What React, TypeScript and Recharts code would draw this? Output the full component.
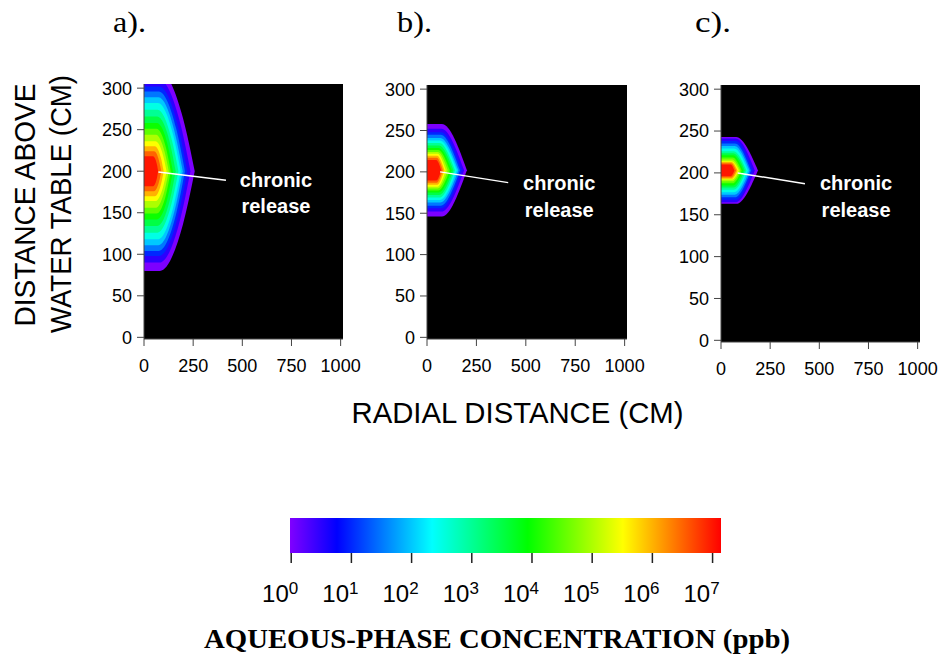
import React from "react";
import {
  ComposedChart,
  Area,
  XAxis,
  YAxis,
  CartesianGrid,
  ReferenceLine,
  ReferenceDot,
} from "recharts";

const SANS = '"Liberation Sans", Arial, Helvetica, sans-serif';
const SERIF = '"Liberation Serif", "Times New Roman", Times, serif';

// log10 of aqueous concentration (ppb) for each contour level
const LEVELS = [0, 0.5, 1, 1.5, 2, 2.5, 3, 3.5, 4, 4.5, 5, 5.5, 6, 6.5, 7];

// contour shapes, cm: half-height at r=0, end of flat part, radial reach at source height
const A_HALF = [120, 110, 102, 96, 89, 82, 74, 66, 58, 51, 44, 36, 30, 24, 18];
const A_FLAT = [81, 79, 77, 75, 73, 71, 69, 67, 65, 63, 61, 58, 55, 51, 46];
const A_REACH = [258, 236, 220, 208, 197, 187, 175, 161, 147, 136, 126, 115, 100, 88, 72];
// panel a contours bulge: one extra point on the shoulder (r, half-height)
const A_MID_R = [198, 184, 173, 164, 156, 149, 140, 131, 121, 113, 105, 97, 86, 76, 64];
const A_MID_H = [64, 58, 54, 51, 47, 43, 39, 35, 31, 27, 23, 19, 16, 13, 10];

const B_HALF = [56, 50, 46, 43, 39, 36, 33, 30, 27, 24.5, 22, 20, 17.5, 15, 12.5];
const B_FLAT = [75, 73, 71, 69, 67, 65, 63, 61, 59, 57, 55, 53, 51, 49, 47];
const B_REACH = [202, 188, 176, 167, 159, 151, 142, 134, 125, 115, 105, 95, 88, 80, 72];

const C_HALF = [40, 38, 35, 32, 29, 26, 23, 20.5, 18, 15.5, 13, 11, 10, 8.5, 7];
const C_FLAT = [77, 75, 73, 71, 69, 67, 65, 63, 61, 59, 57, 55, 53, 51, 49];
const C_REACH = [188, 172, 160, 152, 145, 137, 129, 121, 113, 105, 98, 91, 84, 77, 68];

// height of the release point (cm)
const SOURCE_Y = [200, 202, 203];

const X_TICKS = [0, 250, 500, 750, 1000];
const Y_TICKS = [0, 50, 100, 150, 200, 250, 300];

// colour bar: log10 concentration where each pure hue sits
const BAR_LEVELS = [-0.02, 0.76, 2.34, 3.93, 5.51, 7.14];
const BAR_COLORS = ["#8000ff", "#0000ff", "#00ffff", "#00ff00", "#ffff00", "#ff0000"];
const BAR_TICKS = [0, 1, 2, 3, 4, 5, 6, 7];

const hexToRgb = (h: string) => [1, 3, 5].map((i) => parseInt(h.slice(i, i + 2), 16));

function colorAt(v: number) {
  const n = BAR_LEVELS.length;
  for (let i = 0; i < n - 1; i++) {
    if (v <= BAR_LEVELS[i + 1] || i === n - 2) {
      const t = Math.max(0, Math.min(1, (v - BAR_LEVELS[i]) / (BAR_LEVELS[i + 1] - BAR_LEVELS[i])));
      const a = hexToRgb(BAR_COLORS[i]);
      const b = hexToRgb(BAR_COLORS[i + 1]);
      return `rgb(${a.map((c, k) => Math.round(c + (b[k] - c) * t)).join(",")})`;
    }
  }
  return BAR_COLORS[n - 1];
}

type PanelCfg = {
  box: { left: number; top: number; width: number; height: number };
  half: number[];
  flat: number[];
  reach: number[];
  midR?: number[];
  midH?: number[];
  center: number;
  leader: { x: number; y: number }[];
  text: { x: number; chronic: number; release: number };
};

const PANELS: PanelCfg[] = [
  {
    box: { left: 144, top: 84, width: 199, height: 255 },
    half: A_HALF, flat: A_FLAT, reach: A_REACH, midR: A_MID_R, midH: A_MID_H, center: SOURCE_Y[0],
    leader: [{ x: 73, y: 199 }, { x: 417, y: 189 }],
    text: { x: 671, chronic: 190, release: 158 },
  },
  {
    box: { left: 427, top: 85, width: 200, height: 254 },
    half: B_HALF, flat: B_FLAT, reach: B_REACH, center: SOURCE_Y[1],
    leader: [{ x: 66, y: 200 }, { x: 411, y: 187 }],
    text: { x: 669, chronic: 187, release: 154 },
  },
  {
    box: { left: 721, top: 84.5, width: 199, height: 257 },
    half: C_HALF, flat: C_FLAT, reach: C_REACH, center: SOURCE_Y[2],
    leader: [{ x: 85, y: 200 }, { x: 427, y: 187 }],
    text: { x: 687, chronic: 187.5, release: 155.5 },
  },
];

function contour(p: PanelCfg, i: number) {
  const c = p.center;
  const pts = [
    { x: 0, band: [c - p.half[i], c + p.half[i]] },
    { x: p.flat[i], band: [c - p.half[i], c + p.half[i]] },
  ];
  if (p.midR && p.midH) pts.push({ x: p.midR[i], band: [c - p.midH[i], c + p.midH[i]] });
  pts.push({ x: p.reach[i], band: [c, c] });
  return pts;
}

const tickStyle = { fontSize: 18, fill: "#000", fontFamily: SANS };
const labelStyle = { position: "center" as const, fill: "#fff", fontSize: 20, fontWeight: 700, fontFamily: SANS };

function Panel({ p }: { p: PanelCfg }) {
  const { box } = p;
  const YW = 50;
  const MR = 25;
  return (
    <div style={{ position: "absolute", left: box.left - YW, top: box.top - 10 }}>
      <ComposedChart
        width={box.width + YW + MR}
        height={box.height + 10 + 45}
        margin={{ top: 10, right: MR, left: 0, bottom: 0 }}
      >
        <CartesianGrid fill="#000" horizontal={false} vertical={false} stroke="none" />
        <XAxis
          type="number"
          dataKey="x"
          domain={[0, 1012]}
          ticks={X_TICKS}
          allowDataOverflow
          interval={0}
          height={45}
          tickSize={7}
          tickMargin={13}
          tick={tickStyle}
          tickLine={{ stroke: "#444" }}
          axisLine={{ stroke: "#444" }}
        />
        <YAxis
          type="number"
          domain={[-2, 305]}
          ticks={Y_TICKS}
          allowDataOverflow
          interval={0}
          width={YW}
          tickSize={7}
          tickMargin={5}
          tick={tickStyle}
          tickLine={{ stroke: "#444" }}
          axisLine={{ stroke: "#444" }}
        />
        {LEVELS.map((lv, i) => (
          <Area
            key={lv}
            data={contour(p, i)}
            dataKey="band"
            type="monotone"
            stroke="none"
            fill={colorAt(lv)}
            fillOpacity={1}
            dot={false}
            activeDot={false}
            isAnimationActive={false}
          />
        ))}
        <ReferenceLine segment={p.leader} stroke="#fff" strokeWidth={1.5} />
        <ReferenceDot x={p.text.x} y={p.text.chronic} r={0} fill="none" stroke="none"
          label={{ value: "chronic", ...labelStyle }} />
        <ReferenceDot x={p.text.x} y={p.text.release} r={0} fill="none" stroke="none"
          label={{ value: "release", ...labelStyle }} />
      </ComposedChart>
    </div>
  );
}

const PowerTick = (props: any) => {
  const { x, y, payload } = props;
  return (
    <text x={x - 11} y={y + 39} textAnchor="middle" fontSize={24} fontFamily={SANS} fill="#000">
      10
      <tspan dy={-8} fontSize={17}>{payload.value}</tspan>
    </text>
  );
};

const BAR_DATA = BAR_LEVELS.map((l) => ({ x: l, v: 1 }));

function ColorBar() {
  const lo = BAR_LEVELS[0];
  const hi = BAR_LEVELS[BAR_LEVELS.length - 1];
  const ML = 40;
  const MR = 30;
  // bar is 35px tall, tick marks hang 10px below it inside the plot
  const tickDrop = -10 / 35;
  return (
    <div style={{ position: "absolute", left: 290 - ML, top: 517.7 }}>
      <ComposedChart
        width={431 + ML + MR}
        height={45 + 60}
        data={BAR_DATA}
        margin={{ top: 0, right: MR, left: ML, bottom: 0 }}
      >
        <defs>
          <linearGradient id="rainbow" x1="0" y1="0" x2="1" y2="0">
            {BAR_LEVELS.map((l, i) => (
              <stop key={l} offset={(l - lo) / (hi - lo)} stopColor={BAR_COLORS[i]} />
            ))}
          </linearGradient>
        </defs>
        <XAxis
          type="number"
          dataKey="x"
          domain={[lo, hi]}
          ticks={BAR_TICKS}
          interval={0}
          height={60}
          tickSize={0}
          tickMargin={0}
          axisLine={false}
          tickLine={false}
          tick={<PowerTick />}
        />
        <YAxis hide type="number" domain={[tickDrop, 1]} />
        <Area
          dataKey="v"
          type="linear"
          baseValue={0}
          stroke="none"
          fill="url(#rainbow)"
          fillOpacity={1}
          dot={false}
          activeDot={false}
          isAnimationActive={false}
        />
        {BAR_TICKS.map((t) => (
          <ReferenceLine
            key={t}
            segment={[{ x: t, y: 0 }, { x: t, y: tickDrop }]}
            stroke="#222"
            strokeWidth={1.5}
          />
        ))}
      </ComposedChart>
    </div>
  );
}

export default function App() {
  return (
    <div style={{ position: "absolute", left: 0, top: 0, width: 942, height: 659, background: "#fff" }}>
      <svg width={942} height={659} style={{ position: "absolute", left: 0, top: 0 }}>
        <g fontFamily={SERIF} fontSize={30} fill="#000">
          <text x={113} y={32} textLength={33} lengthAdjust="spacingAndGlyphs">a).</text>
          <text x={397} y={32} textLength={35} lengthAdjust="spacingAndGlyphs">b).</text>
          <text x={695} y={32} textLength={36} lengthAdjust="spacingAndGlyphs">c).</text>
        </g>
        <g fontFamily={SANS} fontSize={29} fill="#000" textAnchor="middle">
          <text transform="translate(35,205) rotate(-90)" textLength={243} lengthAdjust="spacingAndGlyphs">
            DISTANCE ABOVE
          </text>
          <text transform="translate(71,204) rotate(-90)" textLength={258} lengthAdjust="spacingAndGlyphs">
            WATER TABLE (CM)
          </text>
          <text x={517.5} y={423} textLength={332} lengthAdjust="spacingAndGlyphs">
            RADIAL DISTANCE (CM)
          </text>
        </g>
        <text x={497} y={648} textAnchor="middle" fontFamily={SERIF} fontWeight={700} fontSize={28}
          textLength={586} lengthAdjust="spacingAndGlyphs">
          AQUEOUS-PHASE CONCENTRATION (ppb)
        </text>
      </svg>
      {PANELS.map((p, i) => (
        <Panel key={i} p={p} />
      ))}
      <ColorBar />
    </div>
  );
}
